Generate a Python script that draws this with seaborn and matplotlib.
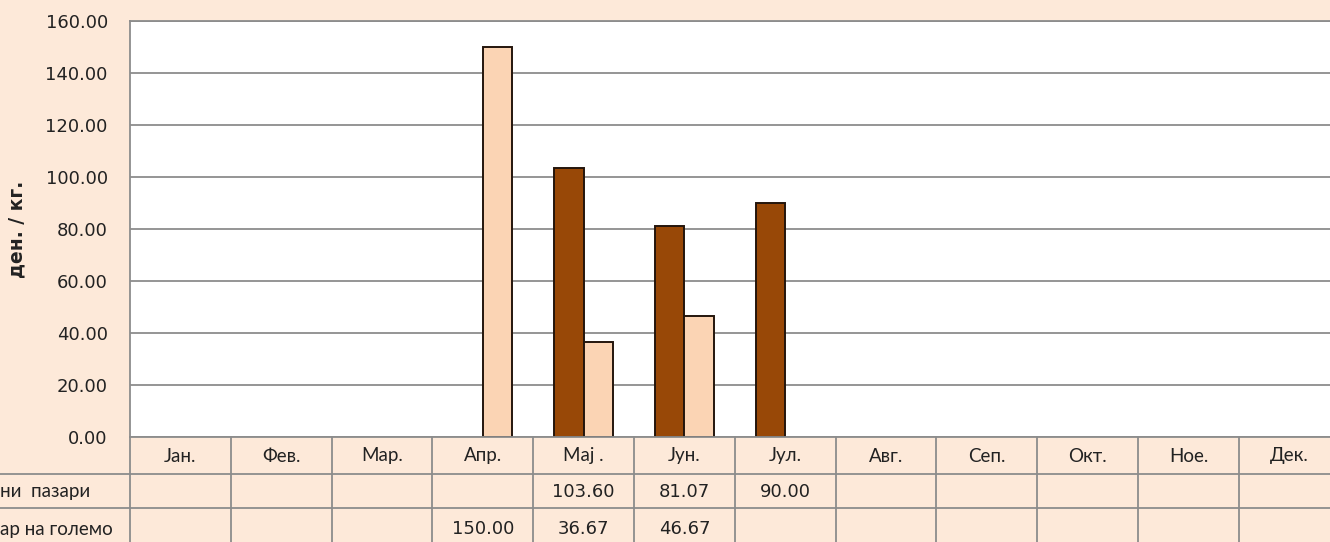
import pandas as pd
import numpy as np
import matplotlib.pyplot as plt
import seaborn as sns

months = ['Јан.', 'Фев.', 'Мар.', 'Апр.', 'Мај .', 'Јун.', 'Јул.', 'Авг.', 'Сеп.', 'Окт.', 'Ное.', 'Дек.']
series_names = ['ни  пазари', 'ар на големо']
retail = [None, None, None, None, 103.60, 81.07, 90.00, None, None, None, None, None]
wholesale = [None, None, None, 150.00, 36.67, 46.67, None, None, None, None, None, None]
yticks = [0, 20, 40, 60, 80, 100, 120, 140, 160]

bg = '#FDE9D9'
dark = '#984807'
light = '#FBD4B4'
grid = '#8c8c8c'
txt = '#222222'
num_font = ['DejaVu Sans']
lab_font = ['Lato', 'DejaVu Sans']

rows = []
for name, vals in zip(series_names, [retail, wholesale]):
    for m, v in zip(months, vals):
        if v is not None:
            rows.append({'month': m, 'series': name, 'value': v})
df = pd.DataFrame(rows)

sns.set_style('white')
plt.rcParams['font.family'] = lab_font

W, H = 1330, 542
fig = plt.figure(figsize=(W / 100, H / 100), dpi=100, facecolor=bg)

# plot area (runs a bit past the right edge, like the crop in the source)
left, top, bottom, colw = 130, 21, 437, 100.8
right = left + 12 * colw
ax = fig.add_axes([left / W, (H - bottom) / H, (right - left) / W, (bottom - top) / H])
ax.set_facecolor('white')
sns.barplot(data=df, x='month', y='value', hue='series', order=months,
            hue_order=series_names, palette=[dark, light], saturation=1, width=0.58,
            edgecolor='#24150c', linewidth=1.4, ax=ax, legend=False)
ax.set_xlim(-0.5, 11.5)
ax.set_ylim(0, 160)
ax.set_yticks(yticks)
ax.set_yticklabels([f'{v:.2f}' for v in yticks], fontsize=13, color=txt, family=num_font)
ax.set_xticks([])
ax.set_xlabel('')
ax.set_ylabel('ден. / кг.', fontsize=13.5, fontweight='bold', color=txt, family=num_font)
ax.yaxis.set_label_coords((26 - left) / (right - left), 0.5)
ax.tick_params(axis='y', length=0, pad=16)
ax.yaxis.grid(True, color=grid, linewidth=1.3)
ax.set_axisbelow(True)
for s in ['top', 'left']:
    ax.spines[s].set_color(grid)
    ax.spines[s].set_linewidth(1.3)
ax.spines['right'].set_visible(False)
ax.spines['bottom'].set_visible(False)

# data table under the plot, y in pixels from the top
tab = fig.add_axes([left / W, 0, (right - left) / W, (H - bottom) / H])
tab.set_facecolor(bg)
tab.set_xlim(-0.5, 11.5)
tab.set_ylim(H, bottom)
tab.axis('off')
x0 = -0.5 - left / colw
tab.plot([-0.5, 11.5], [bottom, bottom], color=grid, lw=1.3, clip_on=False)
for yy in [474, 508]:
    tab.plot([x0, 11.5], [yy, yy], color=grid, lw=1.3, clip_on=False)
for i in range(13):
    tab.plot([i - 0.5, i - 0.5], [bottom, H], color=grid, lw=1.3, clip_on=False)

for i, m in enumerate(months):
    tab.text(i, 456, m, ha='center', va='center', fontsize=13.5, color=txt)
    if retail[i] is not None:
        tab.text(i, 492, f'{retail[i]:.2f}', ha='center', va='center', fontsize=13,
                 color=txt, family=num_font)
    if wholesale[i] is not None:
        tab.text(i, 529, f'{wholesale[i]:.2f}', ha='center', va='center', fontsize=13,
                 color=txt, family=num_font)

fig.text(0, (H - 492) / H, series_names[0], ha='left', va='center', fontsize=13.5, color=txt)
fig.text(0, (H - 529) / H, series_names[1], ha='left', va='center', fontsize=13.5, color=txt)

fig.savefig('out.png', dpi=100, facecolor=bg)
